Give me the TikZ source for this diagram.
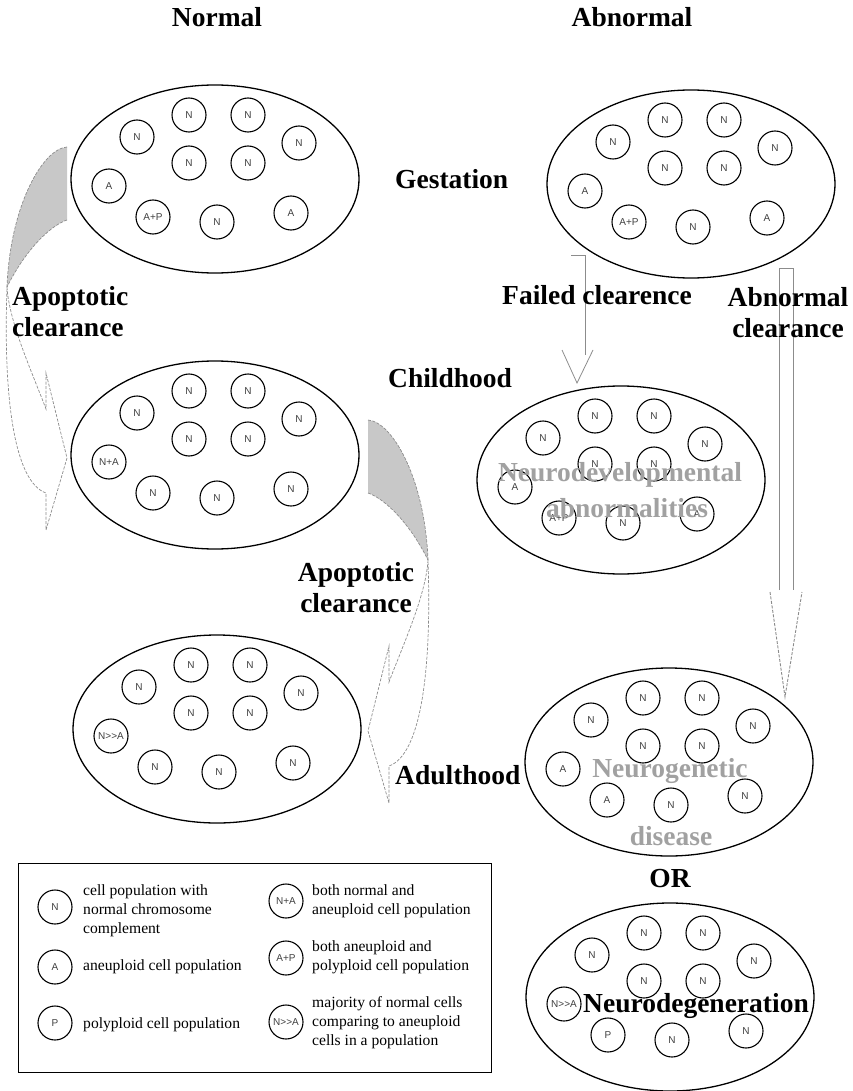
\documentclass[tikz,border=0pt]{standalone}
\usepackage{fontspec}
\setmainfont{Liberation Serif}
\newfontfamily\cellfont{Liberation Sans}
\usetikzlibrary{shapes.geometric,calc}

\definecolor{backgray}{RGB}{200,200,200}
\definecolor{edgegray}{RGB}{140,140,140}

% one population of cells: name, centre, then the labels of the four lower cells
\newcommand{\cellpop}[6]{%
  \node[population] (#1) at (#2) {};
  \foreach \dx/\dy/\lab [count=\i] in {-78/-42/N,-26/-64/N,33/-64/N,84/-36/N,-26/-16/N,33/-16/N,-106/7/#3,-62/38/#4,2/43/#5,76/34/#6}
    \node[cell] (#1-\i) at ($(#1)+(\dx,\dy)$) {\lab};
}

\tikzset{
% curved ribbon arrow, drawn from the top end of the band
clearance/.pic={
  \fill[backgray] (0,0) .. controls (-25,2) and (-57,60) .. (-60,140)
    .. controls (-40,100) and (-15,78) .. (0,73) -- cycle;
  \draw[band] (0,0) .. controls (-25,2) and (-57,60) .. (-60,140);
  \draw[band] (0,73) .. controls (-15,78) and (-40,100) .. (-60,140);
  \draw[band] (-60,140) .. controls (-58,175) and (-35,225) .. (-21,262)
    -- (-21,226) -- (0,311) -- (-21,383) -- (-21,346)
    .. controls (-52,335) and (-64,255) .. (-60,140);
}
}

\begin{document}
\begin{tikzpicture}[x=1pt,y=-1pt,
population/.style={
% the large ellipses
ellipse,
draw=black,
line width=1.3pt,
minimum width=288pt,
minimum height=188pt,
inner sep=0pt
},
cell/.style={circle,draw=black,line width=1.1pt,minimum size=34pt,inner sep=0pt,
  font=\cellfont\fontsize{10}{10}\selectfont,text=black!75},
stage/.style={font=\fontsize{27.5}{31}\selectfont\bfseries,inner sep=0pt,align=center},
faint/.style={stage,text=black!37},
keytext/.style={font=\fontsize{15.6}{19}\selectfont,align=left,anchor=west,inner sep=0pt},
band/.style={draw=edgegray,line width=0.7pt,dash pattern=on 3pt off 1.5pt},
shaft/.style={draw=edgegray,line width=1pt}
]
\useasboundingbox (0,0) rectangle (852,1091);

% headings
\node[stage,anchor=base] (normal) at (217,27) {Normal};
\node[stage,anchor=base] (abnormal) at (632,27) {Abnormal};

% clearance arrows on the normal side
\pic at (67,147) {clearance};
\pic[xscale=-1] at (368,420) {clearance};

% arrows on the abnormal side
\draw[edgegray,line width=0.8pt] (571,255) -- (585,255) -- (585,355);
\draw[edgegray,line width=0.8pt] (562,350) -- (577,383) -- (593,350);
\draw[shaft] (779,590) -- (779,268) -- (793,268) -- (793,590);
\draw[band,line width=0.9pt] (770,592) -- (785,697) -- (802,592);

% populations
\cellpop{gestN}{215,179}{A}{A+P}{N}{A}
\cellpop{gestA}{691,184}{A}{A+P}{N}{A}
\cellpop{childN}{215,455}{N+A}{N}{N}{N}
\cellpop{childA}{621,480}{A}{A+P}{N}{A}
\cellpop{adultN}{217,729}{N>>A}{N}{N}{N}
\cellpop{adultA}{669,762}{A}{A}{N}{N}
\cellpop{degen}{670,997}{N>>A}{P}{N}{N}

% stages and transitions (base of a two-line label is its last line)
\node[stage,anchor=base west] (gestation) at (395,189) {Gestation};
\node[stage,anchor=base west] (childhood) at (388,387) {Childhood};
\node[stage,anchor=base west] (adulthood) at (395,784) {Adulthood};
\node[stage,anchor=base west,align=left] (apopL) at (12,336) {Apoptotic\\clearance};
\node[stage,anchor=base] (apopM) at (356,612) {Apoptotic\\clearance};
\node[stage,anchor=base west] (failed) at (502,304) {Failed clearence};
\node[stage,anchor=base] (abclear) at (788,337) {Abnormal\\clearance};
\node[stage,anchor=base] (or) at (670,887) {OR};

% outcomes
\node[faint,anchor=base] (devel1) at (620,481) {Neurodevelopmental};
\node[faint,anchor=base] (devel2) at (627,517) {abnormalities};
\node[faint,anchor=base] (genet1) at (670,777) {Neurogenetic};
\node[faint,anchor=base] (genet2) at (671,845) {disease};
\node[stage,anchor=base west] (degenText) at (583,1012) {Neurodegeneration};

% key
\draw[line width=0.9pt] (18,863) rectangle (491,1072);
\node[cell] (keyN) at (55,907) {N};
\node[cell] (keyA) at (55,967) {A};
\node[cell] (keyP) at (55,1023) {P};
\node[cell] (keyNA) at (286,901) {N+A};
\node[cell] (keyAP) at (286,958) {A+P};
\node[cell] (keyNgA) at (286,1022) {N>>A};
\node[keytext] at (83,911) {cell population with\\normal chromosome\\complement};
\node[keytext] at (83,967) {aneuploid cell population};
\node[keytext] at (83,1025) {polyploid cell population};
\node[keytext] at (312,901) {both normal and\\aneuploid cell population};
\node[keytext] at (312,957) {both aneuploid and\\polyploid cell population};
\node[keytext] at (312,1023) {majority of normal cells\\comparing to aneuploid\\cells in a population};
\end{tikzpicture}
\end{document}
